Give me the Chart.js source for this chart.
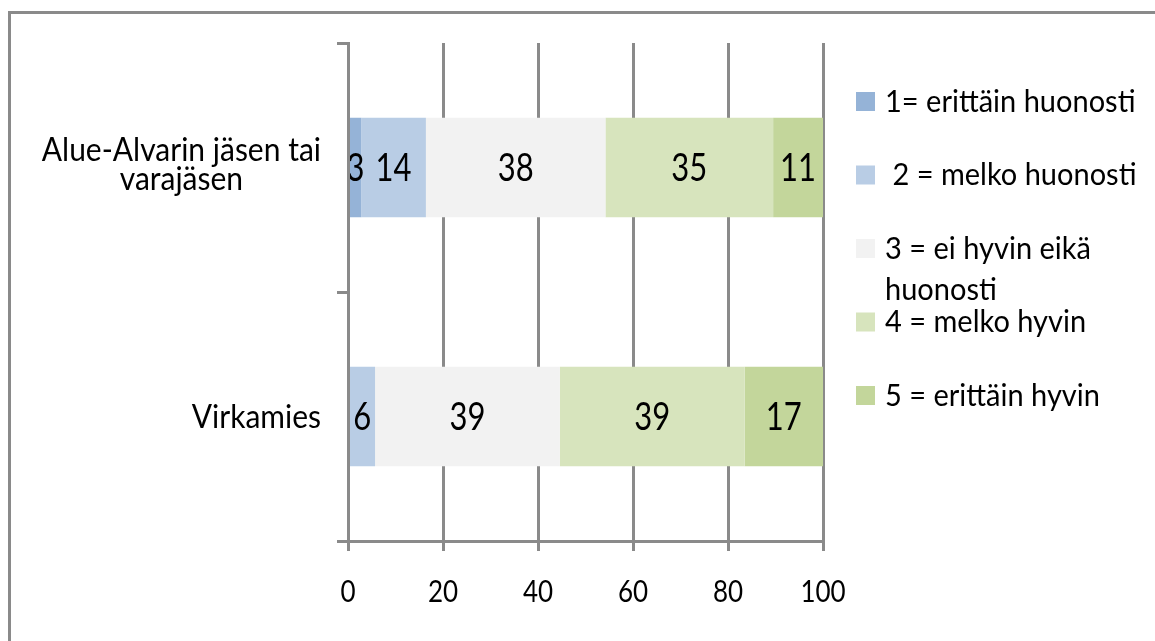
<!DOCTYPE html>
<html>
<head>
<meta charset="utf-8">
<script src="https://cdn.jsdelivr.net/npm/chart.js@4.4.1/dist/chart.umd.min.js"></script>
<style>
  body { margin: 0; background: #fff; }
  #wrap { position: relative; width: 1155px; height: 641px; overflow: hidden; }
  #frame {
    position: absolute; left: 8px; top: 11px; width: 1300px; height: 800px;
    border-left: 3px solid #8a8a8a; border-top: 3px solid #8a8a8a;
  }
  #chart { position: absolute; left: 0; top: 0; }
</style>
</head>
<body>
<div id="wrap">
  <div id="frame"></div>
  <canvas id="chart" width="1155" height="641"></canvas>
</div>
<script>
// Kategoriat (y-akseli)
const categories = [["Alue-Alvarin jäsen tai", "varajäsen"], "Virkamies"];

// Vastausvaihtoehdot (legenda)
const seriesLabels = [
  ["1= erittäin huonosti"],
  [" 2 = melko huonosti"],
  ["3 = ei hyvin eikä", "huonosti"],
  ["4 = melko hyvin"],
  ["5 = erittäin hyvin"],
];

// Osuudet (%) luettu kuvasta, järjestys: [Alue-Alvari, Virkamies]
const s1 = [2.8, 0];
const s2 = [13.6, 5.7];
const s3 = [37.8, 38.9];
const s4 = [35.3, 38.9];
const s5 = [10.5, 16.5];

// x-akselin rajat
const xMin = 0;
const xMax = 100;
const xStep = 20;

const colors = ["#95b3d7", "#b9cde5", "#f2f2f2", "#d7e4bd", "#c3d69b"];
const gridColor = "#8a8a8a";
const FONT = "Lato, 'Open Sans', sans-serif";

// Teksti hieman venytettynä pystysuunnassa (alkuperäinen kuva on venytetty)
const drawText = (ctx, text, x, cy, size, align, sy) => {
  ctx.save();
  ctx.font = size + "px " + FONT;
  ctx.fillStyle = "#000";
  ctx.textAlign = align;
  ctx.textBaseline = "alphabetic";
  ctx.translate(x, cy + 0.36 * size * sy);
  ctx.scale(1, sy);
  ctx.fillText(text, 0, 0);
  ctx.restore();
};

// Arvot palkkien keskelle
const valueLabels = {
  id: "valueLabels",
  afterDatasetsDraw(chart) {
    const ctx = chart.ctx;
    chart.data.datasets.forEach((ds, di) => {
      const meta = chart.getDatasetMeta(di);
      meta.data.forEach((bar, i) => {
        const v = ds.data[i];
        if (!v) return;
        const p = bar.getProps(["x", "y", "base"], true);
        drawText(ctx, String(Math.round(v)), (p.x + p.base) / 2, p.y, 31, "center", 1.25);
      });
    });
  },
};

// Akselien tekstit ja legenda
const axisText = {
  id: "axisText",
  afterDraw(chart) {
    const ctx = chart.ctx;
    const xs = chart.scales.x;
    const ys = chart.scales.y;

    xs.ticks.forEach((t) => {
      drawText(ctx, String(t.value), xs.getPixelForValue(t.value), xs.top + 50, 26, "center", 1.2);
    });

    ys.getLabels().forEach((label, i) => {
      const lines = Array.isArray(label) ? label : [label];
      ctx.font = "30px " + FONT;
      const w = Math.max(...lines.map((l) => ctx.measureText(l).width));
      const cx = ys.right - 27 - w / 2;
      const cy = ys.getPixelForValue(i);
      lines.forEach((l, j) => {
        drawText(ctx, l, cx, cy + (j - (lines.length - 1) / 2) * 29 - 4 * (lines.length - 1), 30, "center", 1.1);
      });
    });

    // legenda
    const lx = chart.chartArea.right + 33;
    seriesLabels.forEach((lines, i) => {
      const cy = 101 + i * 73.5;
      ctx.fillStyle = colors[i];
      ctx.fillRect(lx, cy - 9, 19, 19);
      lines.forEach((l, j) => {
        drawText(ctx, l, lx + 29, cy + j * 41, 29, "left", 1.05);
      });
    });
  },
};

const ctx = document.getElementById("chart").getContext("2d");
const seriesData = [s1, s2, s3, s4, s5];

new Chart(ctx, {
  type: "bar",
  data: {
    labels: categories,
    datasets: seriesData.map((d, i) => ({
      label: seriesLabels[i].join(" ").trim(),
      data: d,
      backgroundColor: colors[i],
      borderWidth: 0,
      barPercentage: 0.4,
      categoryPercentage: 1,
    })),
  },
  options: {
    indexAxis: "y",
    responsive: false,
    animation: false,
    devicePixelRatio: 1,
    layout: { padding: { top: 43, right: 332, left: 0, bottom: 0 } },
    plugins: {
      legend: { display: false },
      tooltip: { enabled: false },
    },
    scales: {
      x: {
        stacked: true,
        min: xMin,
        max: xMax,
        ticks: { stepSize: xStep, display: false },
        grid: { color: gridColor, lineWidth: 3, tickLength: 10 },
        border: { color: gridColor, width: 3 },
        afterFit: (s) => { s.height = 100; },
      },
      y: {
        stacked: true,
        offset: true,
        ticks: { display: false },
        grid: { offset: true, drawOnChartArea: false, color: gridColor, lineWidth: 3, tickLength: 11 },
        border: { color: gridColor, width: 3, z: 1 },
        afterFit: (s) => { s.width = 348; },
      },
    },
  },
  plugins: [valueLabels, axisText],
});
</script>
</body>
</html>
